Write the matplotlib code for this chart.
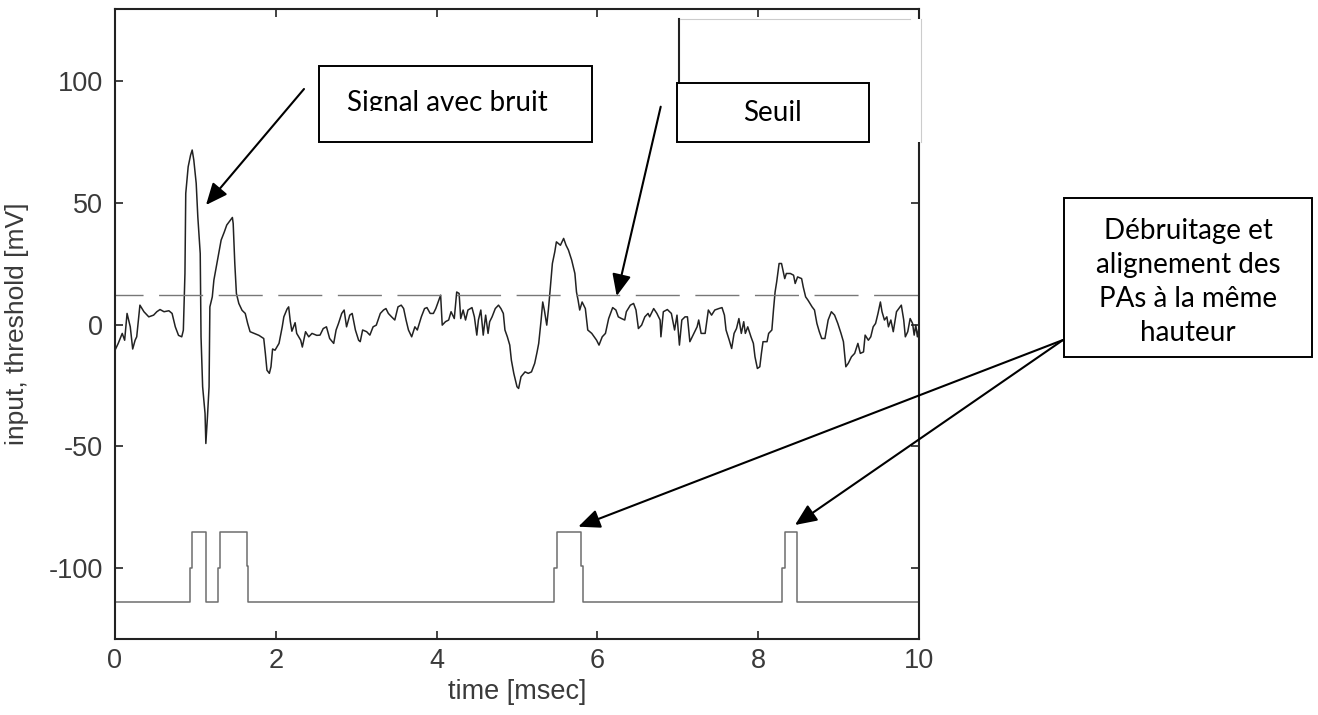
import matplotlib
matplotlib.use('Agg')
import matplotlib.pyplot as plt
from matplotlib.patches import Rectangle
from matplotlib.lines import Line2D
from matplotlib.transforms import Bbox

W, H = 1318, 715

# noisy input trace, time [ms] / amplitude [mV]
sig_t = [0.00, 0.04, 0.09, 0.12, 0.15, 0.19, 0.22, 0.25, 0.27, 0.31, 0.36, 0.42, 0.48, 0.52, 0.56,
         0.61, 0.67, 0.71, 0.75, 0.79, 0.83, 0.85, 0.87, 0.88, 0.91, 0.94, 0.96, 0.98, 1.01, 1.03,
         1.06, 1.07, 1.09, 1.12, 1.13, 1.15, 1.17, 1.18, 1.21, 1.23, 1.26, 1.29, 1.32, 1.36, 1.39,
         1.42, 1.46, 1.47, 1.49, 1.51, 1.54, 1.58, 1.62, 1.65, 1.68, 1.73, 1.79, 1.85, 1.87, 1.89,
         1.92, 1.94, 1.96, 1.99, 2.04, 2.08, 2.10, 2.14, 2.16, 2.18, 2.20, 2.24, 2.26, 2.31, 2.33,
         2.37, 2.41, 2.45, 2.51, 2.55, 2.59, 2.63, 2.67, 2.72, 2.75, 2.78, 2.82, 2.85, 2.88, 2.92,
         2.95, 2.99, 3.03, 3.05, 3.08, 3.13, 3.17, 3.21, 3.25, 3.30, 3.34, 3.37, 3.40, 3.44, 3.48,
         3.52, 3.56, 3.59, 3.62, 3.65, 3.69, 3.73, 3.76, 3.81, 3.85, 3.88, 3.92, 3.96, 3.99, 4.02,
         4.05, 4.07, 4.11, 4.15, 4.18, 4.22, 4.25, 4.28, 4.30, 4.33, 4.36, 4.39, 4.44, 4.47, 4.50,
         4.52, 4.55, 4.58, 4.61, 4.64, 4.66, 4.69, 4.73, 4.77, 4.80, 4.83, 4.85, 4.88, 4.91, 4.93,
         4.96, 5.00, 5.02, 5.05, 5.10, 5.14, 5.18, 5.22, 5.25, 5.27, 5.30, 5.32, 5.34, 5.37, 5.39,
         5.41, 5.44, 5.47, 5.49, 5.54, 5.58, 5.61, 5.64, 5.68, 5.72, 5.74, 5.76, 5.78, 5.81, 5.85,
         5.88, 5.93, 5.99, 6.02, 6.06, 6.10, 6.14, 6.19, 6.23, 6.26, 6.30, 6.34, 6.36, 6.41, 6.45,
         6.48, 6.51, 6.55, 6.59, 6.63, 6.65, 6.70, 6.74, 6.78, 6.79, 6.82, 6.87, 6.92, 6.96, 6.99,
         7.02, 7.05, 7.09, 7.12, 7.15, 7.19, 7.24, 7.26, 7.29, 7.34, 7.38, 7.42, 7.46, 7.51, 7.55,
         7.58, 7.60, 7.64, 7.67, 7.70, 7.73, 7.76, 7.79, 7.82, 7.84, 7.87, 7.91, 7.94, 7.96, 7.99,
         8.02, 8.04, 8.06, 8.11, 8.13, 8.17, 8.19, 8.21, 8.23, 8.26, 8.29, 8.33, 8.35, 8.40, 8.44,
         8.46, 8.49, 8.54, 8.56, 8.59, 8.62, 8.67, 8.70, 8.73, 8.76, 8.79, 8.83, 8.87, 8.91, 8.95,
         8.99, 9.03, 9.06, 9.09, 9.12, 9.16, 9.20, 9.24, 9.27, 9.31, 9.33, 9.37, 9.40, 9.43, 9.46,
         9.49, 9.52, 9.54, 9.57, 9.60, 9.62, 9.65, 9.68, 9.72, 9.78, 9.81, 9.83, 9.86, 9.89, 9.92,
         9.94, 9.96, 9.98, 10.00]
sig_v = [-10.5, -7.7, -3.6, -6.4, 4.6, -0.9, -10.0, -6.4, -5.0, 8.0, 5.3, 3.2, 3.9, 5.3, 6.2,
         5.3, 5.7, 4.6, -0.9, -4.4, -5.0, -2.3, 21.0, 53.9, 64.8, 69.6, 71.7, 67.6, 58.0, 44.3,
         29.2, -5.0, -25.5, -36.5, -48.8, -37.8, -25.5, 7.3, 11.4, 18.3, 23.7, 29.2, 34.7, 38.1, 40.9,
         42.2, 44.0, 41.5, 25.1, 12.8, 8.7, 5.9, 4.6, 0.5, -2.9, -3.6, -4.4, -5.7, -11.8, -18.7,
         -20.0, -17.3, -10.0, -10.5, -7.7, -0.9, 3.2, 6.4, 7.3, 1.4, -2.7, 0.8, -3.6, -6.4, -9.2,
         -2.9, -5.0, -3.6, -4.4, -4.3, -1.6, -0.9, -5.7, -7.7, -2.2, 0.5, 4.6, 6.0, -0.9, 3.9,
         4.6, -2.2, -6.4, -7.0, -2.2, -2.9, -4.3, -0.9, -0.2, 4.6, 6.0, 6.6, 4.6, 3.2, 1.9,
         7.3, 8.0, 6.6, 1.9, -2.2, -5.0, -0.9, -2.2, 3.2, 6.6, 7.0, 4.6, 4.6, 6.6, 9.3,
         12.1, -0.2, 1.2, 1.9, 5.3, 2.5, 13.4, 12.8, 2.5, 6.0, 1.9, 6.0, 7.0, 3.2, -4.3,
         1.9, 6.0, -4.3, 3.9, -3.6, 1.2, 3.2, 6.6, 8.0, 6.6, 4.6, -2.2, -5.0, -8.4, -14.6,
         -20.0, -25.5, -26.2, -21.4, -19.4, -20.0, -19.4, -15.9, -11.2, -7.7, 1.9, 9.3, 6.0, -0.2, 6.0,
         13.4, 25.1, 29.9, 34.0, 32.6, 35.4, 32.6, 30.6, 26.5, 21.0, 13.4, 10.0, 6.0, 9.3, 6.6,
         -2.2, -3.6, -6.4, -8.4, -5.0, -3.6, 2.5, 7.0, 6.0, 3.2, 2.5, 1.9, 5.3, 8.0, 8.7,
         6.0, -1.6, -0.2, 3.2, 4.6, 3.2, 6.6, 4.6, 1.9, -5.0, 5.3, 6.2, 4.6, -2.2, 3.9,
         -8.4, 1.9, 3.2, 3.2, -7.0, -4.3, -0.9, 1.9, -3.6, -3.6, 6.0, 3.9, 6.0, 6.6, 7.0,
         3.9, -2.2, -6.4, -9.8, -3.6, -1.6, 2.5, -3.6, 1.2, -3.6, -0.9, -5.0, -7.7, -13.2, -18.0,
         -17.3, -11.8, -7.0, -7.0, -3.6, -2.2, 6.0, 13.4, 17.6, 25.1, 25.1, 18.9, 21.0, 21.0, 20.3,
         16.9, 19.6, 18.9, 15.5, 11.4, 10.0, 7.3, 6.0, 0.5, -2.9, -5.7, -5.7, 1.9, 5.3, 3.9,
         0.5, -3.6, -7.0, -17.3, -15.9, -13.2, -11.8, -7.7, -11.8, -11.2, -4.3, -6.4, -5.0, -0.9, 0.5,
         4.6, 9.3, 5.3, 1.9, 3.2, -0.9, 1.9, -2.9, 5.3, 8.0, 1.9, -5.0, -2.9, 2.5, 0.5,
         -4.3, -0.2, -5.0, -1.0]

threshold = 12.0

# detector output (step trace)
det_t = [0, 0.933, 0.933, 0.954, 0.954, 1.132, 1.132, 1.285, 1.285, 1.306, 1.306, 1.638, 1.638,
         1.658, 1.658, 5.465, 5.465, 5.494, 5.494, 5.792, 5.792, 5.826, 5.826, 8.30, 8.30, 8.333,
         8.333, 8.478, 8.478, 10]
det_v = [-114, -114, -100, -100, -85, -85, -114, -114, -100, -100, -85, -85, -99,
         -99, -114, -114, -100, -100, -85, -85, -99, -99, -114, -114, -100, -100,
         -85, -85, -114, -114]

xticks = [0, 2, 4, 6, 8, 10]
yticks = [-100, -50, 0, 50, 100]

txt_signal = 'Signal avec bruit'
txt_seuil = 'Seuil'
txt_pa = 'Débruitage et\nalignement des\nPAs à la même\nhauteur'

plt.rcParams['font.family'] = ['Liberation Sans', 'DejaVu Sans']
plt.rcParams['axes.unicode_minus'] = False


def fx(px):
    return px / W


def fy(py):
    # picture rows are counted from the top
    return 1 - py / H


def add_box(fig, x0, y0, x1, y1, **kw):
    r = Rectangle((fx(x0), fy(y1)), fx(x1) - fx(x0), fy(y0) - fy(y1),
                  transform=fig.transFigure, **kw)
    fig.add_artist(r)
    return r


def add_line(fig, xs, ys, **kw):
    ln = Line2D([fx(x) for x in xs], [fy(y) for y in ys], transform=fig.transFigure, **kw)
    fig.add_artist(ln)
    return ln


fig = plt.figure(figsize=(W / 100, H / 100), dpi=100)
ax = fig.add_axes([fx(115), fy(639.3), (919 - 115) / W, (639.3 - 9) / H])

ax.plot(sig_t, sig_v, color='#222222', lw=1.1)
ax.axhline(threshold, color='#777777', lw=1.0, linestyle=(11.5, (31.7, 11.2)))
ax.plot(det_t, det_v, color='#6e6e6e', lw=1.1)

ax.set_xlim(0, 10)
ax.set_ylim(-129.2, 129.6)
ax.set_xticks(xticks)
ax.set_yticks(yticks)
ax.tick_params(direction='in', length=5.8, width=1.2, top=True, right=True,
               labelsize=19.5, labelcolor='#3a3a3a', color='#222222')
ax.tick_params(axis='y', pad=8.6)
ax.tick_params(axis='x', pad=6)
for s in ax.spines.values():
    s.set_linewidth(1.5)
    s.set_color('#222222')

ax.set_xlabel('time [msec]', fontsize=19.5, color='#3a3a3a', labelpad=4)
ax.set_ylabel('input, threshold [mV]', fontsize=19, color='#3a3a3a', va='center')
ax.yaxis.set_label_coords((17 - 115) / 804, 0.5)

# arrows, start in the free area, tip on the marks
arrow = dict(arrowstyle='-|>,head_length=0.55,head_width=0.24', mutation_scale=24,
             color='black', lw=1.5, shrinkA=0, shrinkB=0)
for (x0, y0), (x1, y1) in [((304, 89), (206, 205)),
                           ((660.7, 106.7), (616.7, 296)),
                           ((1063, 340), (578.3, 526.7)),
                           ((1063, 340), (795, 525))]:
    ax.annotate('', xy=(x1, H - y1), xycoords='figure pixels',
                xytext=(x0, H - y0), textcoords='figure pixels',
                arrowprops=arrow, annotation_clip=False)

# white patch pasted over the top right corner
add_box(fig, 679, 19, 921, 142, facecolor='white', edgecolor='none', zorder=10)
add_line(fig, [679, 679], [19, 83], color='#222222', lw=1.5, zorder=11)
add_line(fig, [680, 910], [19.3, 19.3], color='#cccccc', lw=0.8, zorder=11)
add_line(fig, [920.7, 920.7], [19, 142], color='#cccccc', lw=0.8, zorder=11)

box_kw = dict(facecolor='white', edgecolor='black', lw=1.4, zorder=12)
text_kw = dict(family=['Lato', 'DejaVu Sans'], fontsize=20, color='black', zorder=13)

add_box(fig, 319, 66, 592, 142, **box_kw)
t = fig.text(fx(447.5), fy(111), txt_signal, ha='center', va='baseline', **text_kw)
t.set_clip_box(Bbox.from_extents(319, H - 110.5, 592, H - 66))

add_box(fig, 677, 83, 869, 142, **box_kw)
fig.text(fx(772), fy(113), txt_seuil, ha='center', va='center', **text_kw)

add_box(fig, 1064, 198, 1312, 357, **box_kw)
fig.text(fx(1188), fy(282), txt_pa, ha='center', va='center', linespacing=1.38, **text_kw)

fig.savefig('out.png', dpi=100)
